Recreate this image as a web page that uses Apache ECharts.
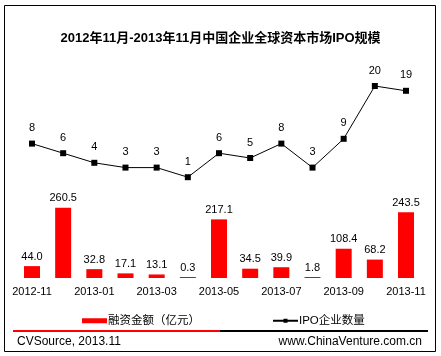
<!DOCTYPE html>
<html>
<head>
<meta charset="utf-8">
<script src="https://cdn.jsdelivr.net/npm/echarts@6/dist/echarts.min.js"></script>
<style>
html,body{margin:0;padding:0;background:#fff;}
#c{width:441px;height:356px;}
</style>
</head>
<body>
<div id="c"></div>
<script>
var categories = ['2012-11','2012-12','2013-01','2013-02','2013-03','2013-04','2013-05','2013-06','2013-07','2013-08','2013-09','2013-10','2013-11'];
var financing = [44.0, 260.5, 32.8, 17.1, 13.1, 0.3, 217.1, 34.5, 39.9, 1.8, 108.4, 68.2, 243.5];
var ipoCount = [8, 6, 4, 3, 3, 1, 6, 5, 8, 3, 9, 20, 19];
var titleText = '2012年11月-2013年11月中国企业全球资本市场IPO规模';
var barName = '融资金额（亿元）';
var lineName = 'IPO企业数量';
var sourceText = 'CVSource, 2013.11';
var siteText = 'www.ChinaVenture.com.cn';

var FONT = '"Liberation Sans", Arial, "Noto Sans CJK SC", sans-serif';
var chart = echarts.init(document.getElementById('c'), null, {renderer: 'canvas'});
chart.setOption({
  backgroundColor: '#ffffff',
  animation: false,
  textStyle: {fontFamily: FONT},
  title: {
    text: titleText,
    left: 'center',
    top: 27,
    textStyle: {fontSize: 13, fontWeight: 'bold', color: '#000', fontFamily: FONT}
  },
  legend: {
    left: 77,
    top: 310,
    itemGap: 72,
    itemWidth: 25,
    itemHeight: 5,
    textStyle: {fontSize: 11.5, color: '#000', fontFamily: FONT, padding: [0,0,0,-4]},
    data: [
      {name: barName, icon: 'rect'},
      {name: lineName}
    ]
  },
  grid: {left: 16.4, right: 19.4, top: 62, bottom: 78},
  xAxis: {
    type: 'category',
    data: categories,
    axisLine: {show: false},
    axisTick: {show: false},
    axisLabel: {interval: 1, color: '#000', fontSize: 11, margin: 8, fontFamily: FONT}
  },
  yAxis: [
    {type: 'value', min: 0, max: 800, show: false, splitLine: {show: false}},
    {type: 'value', min: -20, max: 25, show: false, splitLine: {show: false}}
  ],
  series: [
    {
      name: barName,
      type: 'bar',
      yAxisIndex: 0,
      data: financing,
      barWidth: 16,
      barMinHeight: 1,
      itemStyle: {color: '#ff0000'},
      label: {
        show: true, position: 'top', distance: 4, color: '#000', fontSize: 11,
        fontFamily: FONT,
        formatter: function(p){ return p.value.toFixed(1); }
      }
    },
    {
      name: lineName,
      type: 'line',
      yAxisIndex: 1,
      data: ipoCount,
      symbol: 'rect',
      symbolSize: 6,
      lineStyle: {color: '#000', width: 1},
      itemStyle: {color: '#000'},
      label: {show: true, position: 'top', distance: 7, color: '#000', fontSize: 11, fontFamily: FONT}
    }
  ],
  graphic: [
    {type: 'rect', shape: {x: 4.5, y: 5.5, width: 431, height: 346}, style: {fill: 'none', stroke: '#000', lineWidth: 1}, silent: true},
    {type: 'line', shape: {x1: 13, y1: 331, x2: 220, y2: 331}, style: {stroke: '#ff0000', lineWidth: 2}},
    {type: 'line', shape: {x1: 220, y1: 331, x2: 428, y2: 331}, style: {stroke: '#000', lineWidth: 2}},
    {type: 'text', left: 17, top: 336, style: {text: sourceText, fontSize: 12, fill: '#000', fontFamily: FONT}},
    {type: 'text', right: 19, top: 336, style: {text: siteText, fontSize: 12, fill: '#000', fontFamily: FONT}}
  ]
});
</script>
</body>
</html>
